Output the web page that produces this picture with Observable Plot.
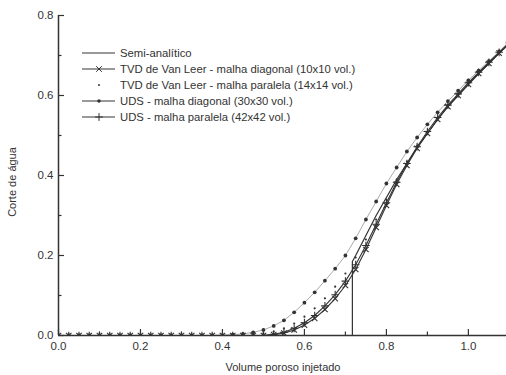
<!DOCTYPE html>
<html>
<head>
<meta charset="utf-8">
<script src="https://cdn.jsdelivr.net/npm/d3@7"></script>
<script src="https://cdn.jsdelivr.net/npm/@observablehq/plot@0.6"></script>
<style>
  html, body { margin: 0; padding: 0; background: #fff; }
  #chart svg { display: block; }
</style>
</head>
<body>
<div id="chart"></div>
<script>
// ---- data ----
const volume = [0, 0.025, 0.05, 0.075, 0.1, 0.125, 0.15, 0.175, 0.2, 0.225, 0.25, 0.275, 0.3, 0.325, 0.35, 0.375, 0.4, 0.425, 0.45, 0.475, 0.5, 0.525, 0.55, 0.575, 0.6, 0.625, 0.65, 0.675, 0.7, 0.725, 0.75, 0.775, 0.8, 0.825, 0.85, 0.875, 0.9, 0.925, 0.95, 0.975, 1.0, 1.025, 1.05, 1.075, 1.1];

const udsDiagonal = [0, 0, 0, 0, 0, 0, 0, 0, 0, 0, 0, 0, 0, 0, 0, 0, 0.001, 0.002, 0.004, 0.008, 0.014, 0.024, 0.038, 0.058, 0.082, 0.108, 0.137, 0.167, 0.2, 0.243, 0.29, 0.335, 0.38, 0.42, 0.46, 0.495, 0.528, 0.558, 0.586, 0.612, 0.638, 0.662, 0.686, 0.71, 0.735];
const tvdParalela = [0, 0, 0, 0, 0, 0, 0, 0, 0, 0, 0, 0, 0, 0, 0, 0, 0, 0, 0, 0.002, 0.005, 0.01, 0.018, 0.03, 0.047, 0.068, 0.093, 0.122, 0.155, 0.195, 0.24, 0.29, 0.34, 0.39, 0.435, 0.475, 0.51, 0.545, 0.577, 0.605, 0.632, 0.658, 0.683, 0.708, 0.733];
const udsParalela = [0, 0, 0, 0, 0, 0, 0, 0, 0, 0, 0, 0, 0, 0, 0, 0, 0, 0, 0, 0, 0, 0.003, 0.008, 0.018, 0.032, 0.05, 0.074, 0.102, 0.136, 0.177, 0.225, 0.278, 0.332, 0.383, 0.43, 0.472, 0.51, 0.545, 0.576, 0.604, 0.632, 0.658, 0.683, 0.708, 0.732];
const tvdDiagonal = [0, 0, 0, 0, 0, 0, 0, 0, 0, 0, 0, 0, 0, 0, 0, 0, 0, 0, 0, 0, 0, 0.002, 0.006, 0.014, 0.026, 0.043, 0.065, 0.092, 0.125, 0.165, 0.215, 0.27, 0.325, 0.378, 0.425, 0.468, 0.505, 0.54, 0.572, 0.6, 0.628, 0.655, 0.68, 0.706, 0.73];

const semiVolume = [0, 0.717, 0.717, 0.725, 0.75, 0.775, 0.8, 0.825, 0.85, 0.875, 0.9, 0.925, 0.95, 0.975, 1.0, 1.025, 1.05, 1.075, 1.1];
const semiCut = [0, 0, 0.185, 0.2, 0.25, 0.3, 0.345, 0.39, 0.43, 0.47, 0.505, 0.54, 0.572, 0.6, 0.628, 0.655, 0.68, 0.706, 0.73];

const legendLabels = [
  "Semi-analítico",
  "TVD de Van Leer - malha diagonal (10x10 vol.)",
  "TVD de Van Leer - malha paralela (14x14 vol.)",
  "UDS - malha diagonal (30x30 vol.)",
  "UDS - malha paralela (42x42 vol.)"
];
const xMajor = [0, 0.2, 0.4, 0.6, 0.8, 1.0];
const xMinor = [0.1, 0.3, 0.5, 0.7, 0.9];
const yMajor = [0, 0.2, 0.4, 0.6, 0.8];
const yMinor = [0.1, 0.3, 0.5, 0.7];
const xLabel = "Volume poroso injetado";
const yLabel = "Corte de água";

// ---- tables ----
const rows = (ys) => volume.map((v, i) => ({x: v, y: ys[i]}));
const semi = semiVolume.map((v, i) => ({x: v, y: semiCut[i]}));
const ink = "#333";
const yPerPx = 0.8 / 320;     // tick length conversions (style only)
const xPerPx = 1.093 / 448;

const chart = Plot.plot({
  width: 506,
  height: 375,
  marginLeft: 58,
  marginRight: 0,
  marginTop: 15,
  marginBottom: 40,
  x: {domain: [0, 1.093]},
  y: {domain: [0, 0.8]},
  style: {fontFamily: "'Liberation Sans', Arial, sans-serif", fontSize: "11.5px", color: ink, background: "#fff"},
  marks: [
    Plot.ruleX([0], {y1: 0, y2: 0.8, stroke: ink, strokeWidth: 1.5}),
    Plot.ruleY([0], {stroke: ink, strokeWidth: 1.5}),
    Plot.axisY({ticks: yMajor, tickSize: 0, tickPadding: 5, tickFormat: d3.format(".1f"), label: null}),
    Plot.axisX({ticks: xMajor, tickSize: 0, tickPadding: 6, tickFormat: d3.format(".1f"), label: null}),
    // inward ticks
    Plot.ruleY(yMajor, {x1: 0, x2: 6 * xPerPx, stroke: ink, strokeWidth: 1.2}),
    Plot.ruleY(yMinor, {x1: 0, x2: 3.5 * xPerPx, stroke: ink, strokeWidth: 1.2}),
    Plot.ruleX(xMajor, {y1: 0, y2: 6 * yPerPx, stroke: ink, strokeWidth: 1.2}),
    Plot.ruleX(xMinor, {y1: 0, y2: 3.5 * yPerPx, stroke: ink, strokeWidth: 1.2}),
    // UDS diagonal
    Plot.line(rows(udsDiagonal), {x: "x", y: "y", stroke: ink, strokeWidth: 0.7, strokeOpacity: 0.6, clip: true}),
    Plot.dot(rows(udsDiagonal), {x: "x", y: "y", r: 1.9, fill: ink, stroke: "none", clip: true}),
    // TVD paralela (dots only)
    Plot.dot(rows(tvdParalela), {x: "x", y: "y", r: 1.1, fill: ink, stroke: "none", clip: true}),
    // UDS paralela
    Plot.line(rows(udsParalela), {x: "x", y: "y", stroke: ink, strokeWidth: 1.1, clip: true}),
    Plot.dot(rows(udsParalela), {x: "x", y: "y", symbol: "plus", r: 2.6, stroke: ink, strokeWidth: 1.1, clip: true}),
    // TVD diagonal
    Plot.line(rows(tvdDiagonal), {x: "x", y: "y", stroke: ink, strokeWidth: 1.1, clip: true}),
    Plot.dot(rows(tvdDiagonal), {x: "x", y: "y", symbol: "times", r: 2.6, stroke: ink, strokeWidth: 1.1, clip: true}),
    // semi-analytic
    Plot.line(semi, {x: "x", y: "y", stroke: ink, strokeWidth: 1.2, clip: true})
  ]
});

document.getElementById("chart").appendChild(chart);

// ---- axis titles and legend ----
const svg = d3.select(chart);
svg.append("text")
  .attr("transform", "translate(16,182) rotate(-90)")
  .attr("text-anchor", "middle")
  .attr("font-size", 11)
  .attr("fill", ink)
  .text(yLabel);
svg.append("text")
  .attr("x", 283).attr("y", 371)
  .attr("text-anchor", "middle")
  .attr("font-size", 11)
  .attr("fill", ink)
  .text(xLabel);

const legendStyles = [
  {line: true, symbol: null},
  {line: true, symbol: d3.symbolTimes, size: 22, fill: "none", stroke: ink},
  {line: false, symbol: d3.symbolCircle, size: 3, fill: ink, stroke: "none"},
  {line: true, symbol: d3.symbolCircle, size: 10, fill: ink, stroke: "none"},
  {line: true, symbol: d3.symbolPlus, size: 22, fill: "none", stroke: ink}
];
const lg = svg.append("g").attr("transform", "translate(82,53)");
legendLabels.forEach((label, i) => {
  const s = legendStyles[i];
  const g = lg.append("g").attr("transform", `translate(0,${i * 16})`);
  if (s.line) g.append("line").attr("x1", 0).attr("x2", 33).attr("stroke", ink).attr("stroke-width", 1);
  if (s.symbol) g.append("path").attr("transform", "translate(17,0)")
    .attr("d", d3.symbol(s.symbol, s.size)())
    .attr("fill", s.fill).attr("stroke", s.stroke).attr("stroke-width", 1);
  g.append("text").attr("x", 38).attr("dy", "0.35em")
    .attr("text-anchor", "start")
    .attr("font-size", 11.3).attr("fill", ink).text(label);
});
</script>
</body>
</html>
